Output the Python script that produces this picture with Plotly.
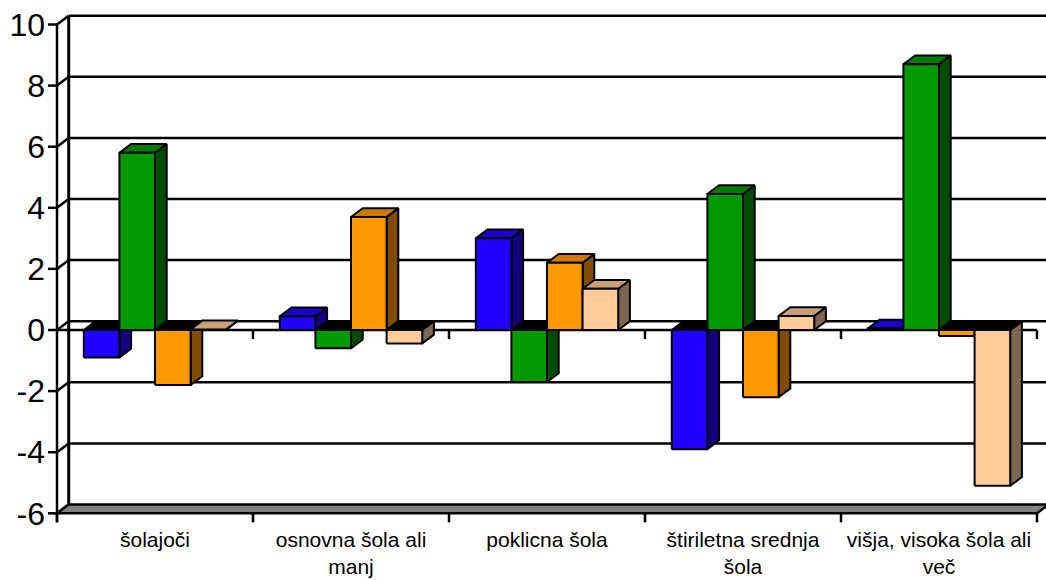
import plotly.graph_objects as go

# ---- data -------------------------------------------------------------
categories = [
    "šolajoči",
    "osnovna šola ali manj",
    "poklicna šola",
    "štiriletna srednja šola",
    "višja, visoka šola ali več",
]
category_labels = [
    "šolajoči",
    "osnovna šola ali<br>manj",
    "poklicna šola",
    "štiriletna srednja<br>šola",
    "višja, visoka šola ali<br>več",
]

series_blue = [-0.9, 0.45, 3.0, -3.9, 0.05]
series_green = [5.8, -0.6, -1.7, 4.45, 8.7]
series_orange = [-1.8, 3.7, 2.2, -2.2, -0.2]
series_peach = [0.02, -0.44, 1.35, 0.46, -5.1]

y_ticks = [-6, -4, -2, 0, 2, 4, 6, 8, 10]

# ---- styling / geometry ----------------------------------------------
# face colours: (front, side, top)
palette = [
    ("#2200FF", "#12007F", "#1B00CC"),
    ("#009900", "#004C00", "#007A00"),
    ("#FF9900", "#7F4C00", "#CC7A00"),
    ("#FFCC99", "#7F6650", "#C8A07A"),
]
all_series = [series_blue, series_green, series_orange, series_peach]

PX_X = 196.0     # pixels per category unit
PX_Y = 30.55     # pixels per value unit
DX = 11.7 / PX_X  # oblique depth offset (x)
DY = 8.8 / PX_Y   # oblique depth offset (y)
BAR_W = 35.6 / PX_X

Y_MIN, Y_MAX = -6, 10
y_top = 10 + 19.5 / PX_Y
y_bot = y_top - 520 / PX_Y
x_left = -0.5 - 11 / PX_X
x_right = x_left + 1000 / PX_X

n_cat = len(categories)
X0, X1 = -0.5, n_cat - 0.5

fig = go.Figure()


def face(xs, ys, color):
    fig.add_trace(go.Scatter(
        x=xs + [xs[0]], y=ys + [ys[0]], mode="lines", fill="toself",
        fillcolor=color, line=dict(color="black", width=2),
        hoverinfo="skip", showlegend=False,
    ))


# ---- bars (painted left to right so nearer faces overlap) -----------
for ci in range(n_cat):
    for si, values in enumerate(all_series):
        v = values[ci]
        front, side, top = palette[si]
        xa = ci - 2 * BAR_W + si * BAR_W
        xb = xa + BAR_W
        lo, hi = min(v, 0), max(v, 0)
        # right side face
        face([xb, xb + DX, xb + DX, xb], [lo, lo + DY, hi + DY, hi], side)
        # top face (black when the bar hangs below zero)
        face([xa, xb, xb + DX, xa + DX], [hi, hi, hi + DY, hi + DY],
             top if v >= 0 else "#000000")
        # front face
        face([xa, xb, xb, xa], [lo, lo, hi, hi], front)

# ---- walls, floor, axes ---------------------------------------------
shapes = []
line_k = dict(color="black", width=2.5)

# back-wall gridlines and side-wall diagonals
for v in y_ticks:
    if v > Y_MIN:
        shapes.append(dict(type="line", layer="below", xref="x", yref="y",
                           x0=X0 + DX, x1=X1 + DX, y0=v + DY, y1=v + DY,
                           line=line_k))
    shapes.append(dict(type="line", layer="below", xref="x", yref="y",
                       x0=X0, x1=X0 + DX, y0=v, y1=v + DY, line=line_k))
    # y tick marks
    shapes.append(dict(type="line", layer="below", xref="x", yref="y",
                       x0=X0 - 9 / PX_X, x1=X0, y0=v, y1=v, line=line_k))

# back wall left edge
shapes.append(dict(type="line", layer="below", xref="x", yref="y",
                   x0=X0 + DX, x1=X0 + DX, y0=Y_MIN + DY, y1=Y_MAX + DY,
                   line=dict(color="black", width=3)))

# floor
shapes.append(dict(type="path", layer="below", xref="x", yref="y",
                   path=(f"M {X0},{Y_MIN} L {X1},{Y_MIN} "
                         f"L {X1 + DX},{Y_MIN + DY} L {X0 + DX},{Y_MIN + DY} Z"),
                   fillcolor="#808080", line=dict(color="black", width=2.5)))

# front value axis
shapes.append(dict(type="line", layer="below", xref="x", yref="y",
                   x0=X0, x1=X0, y0=Y_MAX, y1=Y_MIN - 9 / PX_Y, line=line_k))

# category axis at zero, with boundary ticks
shapes.append(dict(type="line", layer="below", xref="x", yref="y",
                   x0=X0, x1=X1, y0=0, y1=0, line=line_k))
for k in range(n_cat + 1):
    xb = X0 + k
    if k > 0:
        shapes.append(dict(type="line", layer="below", xref="x", yref="y",
                           x0=xb, x1=xb, y0=0, y1=-9 / PX_Y, line=line_k))
    shapes.append(dict(type="line", layer="below", xref="x", yref="y",
                       x0=xb, x1=xb, y0=Y_MIN, y1=Y_MIN - 9 / PX_Y,
                       line=line_k))

fig.update_layout(
    width=1046, height=580,
    margin=dict(l=46, r=0, t=5, b=55),
    paper_bgcolor="white", plot_bgcolor="white",
    shapes=shapes,
    showlegend=False,
    font=dict(family="Liberation Sans, Arial, sans-serif", color="black"),
    xaxis=dict(range=[x_left, x_right], tickvals=list(range(n_cat)),
               ticktext=category_labels, ticks="", showgrid=False,
               zeroline=False, showline=False,
               tickfont=dict(size=21, color="black"), fixedrange=True),
    yaxis=dict(range=[y_bot, y_top], tickvals=y_ticks,
               ticktext=[str(v) for v in y_ticks], ticks="",
               showgrid=False, zeroline=False, showline=False,
               tickfont=dict(size=32, color="black"), fixedrange=True),
)

fig.write_html("out.html")
